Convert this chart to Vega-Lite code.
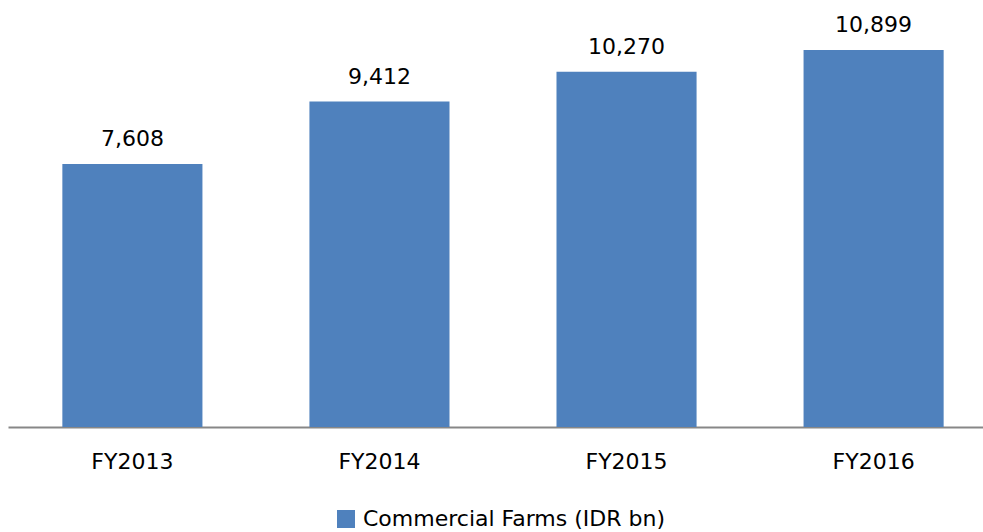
{
  "$schema": "https://vega.github.io/schema/vega-lite/v6.json",
  "autosize": {"type": "none"},
  "padding": {"left": 8, "top": 12, "right": 0, "bottom": 105},
  "width": 975,
  "height": 415,
  "background": "white",
  "config": {"view": {"stroke": null}, "font": "DejaVu Sans"},
  "data": {"values": [
    {"year": "FY2013", "value": 7608, "series": "Commercial Farms (IDR bn)"},
    {"year": "FY2014", "value": 9412, "series": "Commercial Farms (IDR bn)"},
    {"year": "FY2015", "value": 10270, "series": "Commercial Farms (IDR bn)"},
    {"year": "FY2016", "value": 10899, "series": "Commercial Farms (IDR bn)"}
  ]},
  "encoding": {
    "x": {"field": "year", "type": "nominal", "sort": null,
      "scale": {"range": [0, 990], "paddingInner": 0.433, "paddingOuter": 0.22},
      "axis": {"title": null, "labelAngle": 0, "ticks": false, "labelFontSize": 22, "labelColor": "#000000",
        "labelPadding": 24, "domainColor": "#878787", "domainWidth": 2, "labelFont": "DejaVu Sans"}},
    "y": {"field": "value", "type": "quantitative", "scale": {"domain": [0, 12000]}, "axis": null}
  },
  "layer": [
    {"mark": {"type": "bar", "clip": false},
      "encoding": {"color": {"field": "series", "type": "nominal",
        "scale": {"range": ["#4F81BD"]},
        "legend": {"title": null, "orient": "none", "legendX": 327, "legendY": 496,
          "symbolType": "square", "symbolSize": 324, "symbolStrokeWidth": 0, "labelFontSize": 22,
          "labelLimit": 0, "labelColor": "#000000", "labelOffset": 6, "labelFont": "DejaVu Sans"}}}},
    {"mark": {"type": "text", "dy": -18, "baseline": "alphabetic", "fontSize": 22, "color": "#000000", "font": "DejaVu Sans"},
      "encoding": {"text": {"field": "value", "type": "quantitative", "format": ","}}}
  ]
}
